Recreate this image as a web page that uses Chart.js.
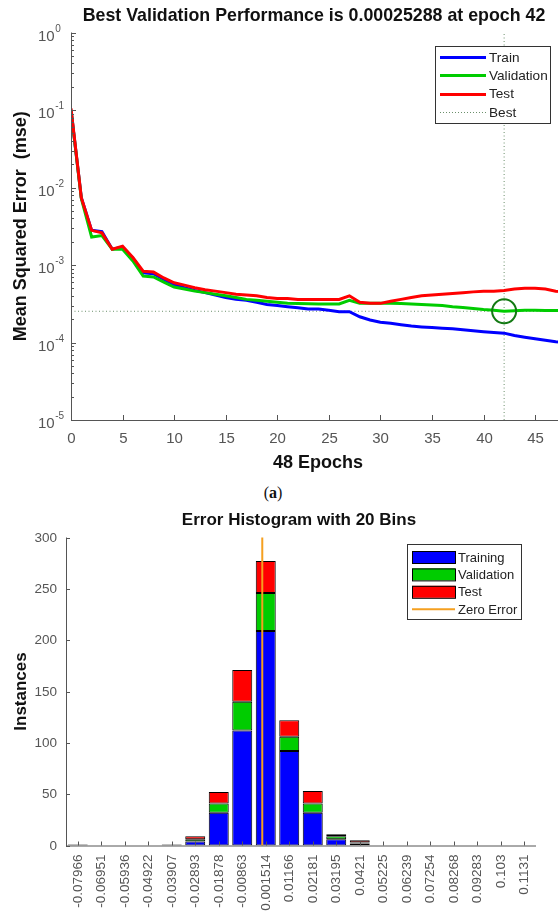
<!DOCTYPE html>
<html>
<head>
<meta charset="utf-8">
<script src="https://cdn.jsdelivr.net/npm/chart.js@4/dist/chart.umd.min.js"></script>
<style>
html, body { margin: 0; padding: 0; background: #fff; overflow: hidden; }
#wrap { position: relative; width: 558px; height: 913px; overflow: hidden; }
#perf { position: absolute; left: 0; top: 0; }
#hist { position: absolute; left: 0; top: 500px; }
#cap { position: absolute; top: 484px; left: 0; width: 546px; text-align: center;
       font-family: "Liberation Serif", serif; font-size: 16px; color: #111; }
</style>
</head>
<body>
<div id="wrap">
  <canvas id="perf" width="600" height="480"></canvas>
  <div id="cap">(<b>a</b>)</div>
  <canvas id="hist" width="558" height="413"></canvas>
</div>
<script>
// ---- performance plot data ----
const epochs = [0,1,2,3,4,5,6,7,8,9,10,11,12,13,14,15,16,17,18,19,20,21,22,23,24,
  25,26,27,28,29,30,31,32,33,34,35,36,37,38,39,40,41,42,43,44,45,46,47,48];
const trainMse = [0.1,0.0074,0.0028,0.0027,0.0016,0.0017,0.00122,0.00079,0.00077,0.00065,
  0.00056,0.00051,0.00047,0.00044,0.00041,0.00038,0.00036,0.00035,0.00033,0.00031,
  0.0003,0.00029,0.00028,0.00027,0.00027,0.00026,0.00025,0.00025,0.000215,0.000195,
  0.000183,0.000177,0.00017,0.000163,0.000159,0.000156,0.000153,0.00015,0.000146,0.000142,
  0.000138,0.000135,0.000132,0.000123,0.000117,0.000112,0.000107,0.000102,0.0001];
const valMse = [0.1,0.0072,0.0023,0.0024,0.0016,0.0016,0.00113,0.00072,0.0007,0.0006,
  0.00052,0.00049,0.00046,0.00044,0.00042,0.0004,0.00038,0.00036,0.00035,0.00034,
  0.00033,0.00032,0.000318,0.000316,0.000315,0.000314,0.000315,0.00035,0.00032,0.00032,
  0.00032,0.000322,0.000318,0.000314,0.00031,0.000305,0.0003,0.00029,0.000283,0.000275,
  0.000266,0.00026,0.00025288,0.000257,0.00026,0.00026,0.000258,0.000258,0.000258];
const testMse = [0.105,0.0074,0.0028,0.0026,0.0016,0.00175,0.00125,0.00083,0.00081,0.00068,
  0.00059,0.00055,0.00051,0.00048,0.00046,0.00044,0.00042,0.00041,0.0004,0.00038,
  0.00037,0.00037,0.00036,0.00036,0.00036,0.00036,0.00036,0.0004,0.00033,0.00032,
  0.00032,0.00034,0.00036,0.00038,0.0004,0.00041,0.00042,0.00043,0.00044,0.00045,
  0.00046,0.00046,0.00047,0.00049,0.0005,0.0005,0.00049,0.00046,0.00045];
const bestEpoch = 42;
const bestPerf = 0.00025288;
const epochTicks = [0,5,10,15,20,25,30,35,40,45];
const mseDecades = [0,-1,-2,-3,-4,-5];

// ---- error histogram data ----
const binLabels = ['-0.07966','-0.06951','-0.05936','-0.04922','-0.03907','-0.02893',
  '-0.01878','-0.00863','0.001514','0.01166','0.02181','0.03195','0.0421','0.05225',
  '0.06239','0.07254','0.08268','0.09283','0.103','0.1131'];
const trainCounts = [1,0,0,0,1,4,32,112,209,92,32,6,2,0,0,0,0,0,0,0];
const valCounts   = [0,0,0,0,0,2,9,28,37,14,9,3,1,0,0,0,0,0,0,0];
const testCounts  = [0,0,0,0,0,3,11,31,31,16,12,2,2,0,0,0,0,0,0,0];
const countTicks = [0,50,100,150,200,250,300];
const zeroError = 0;

const FONT = '"Liberation Sans", Arial, sans-serif';
const AXIS = '#555';
const LABEL = '#555';
const BLUE = '#0000ff', GREEN = '#00cc00', RED = '#ff0000';
const BEST = '#6b8f6b';

function pts(vals) { return epochs.map((e, i) => ({ x: e, y: vals[i] })); }

const perfDecor = {
  id: 'perfDecor',
  afterDraw(chart) {
    const { ctx, chartArea: a, scales: { x, y } } = chart;
    ctx.save();
    ctx.strokeStyle = AXIS;
    ctx.lineWidth = 1;
    ctx.beginPath();
    ctx.moveTo(a.left + 0.5, a.top);
    ctx.lineTo(a.left + 0.5, a.bottom + 0.5);
    ctx.lineTo(a.right, a.bottom + 0.5);
    ctx.stroke();

    // x ticks (inward) and labels
    ctx.fillStyle = LABEL;
    ctx.font = '15px ' + FONT;
    ctx.textAlign = 'center';
    ctx.textBaseline = 'middle';
    epochTicks.forEach(t => {
      const px = Math.round(x.getPixelForValue(t)) + 0.5;
      ctx.beginPath(); ctx.moveTo(px, a.bottom); ctx.lineTo(px, a.bottom - 5); ctx.stroke();
      ctx.fillText(String(t), px, 439);
    });

    // y decade ticks, minor ticks and labels
    mseDecades.forEach(d => {
      const py = Math.round(y.getPixelForValue(Math.pow(10, d))) + 0.5;
      ctx.beginPath(); ctx.moveTo(a.left, py); ctx.lineTo(a.left + 5, py); ctx.stroke();
      if (d > -5) {
        for (let m = 2; m <= 9; m++) {
          const my = Math.round(y.getPixelForValue(m * Math.pow(10, d - 1))) + 0.5;
          ctx.beginPath(); ctx.moveTo(a.left, my); ctx.lineTo(a.left + 3, my); ctx.stroke();
        }
      }
      ctx.textAlign = 'left';
      ctx.font = '15px ' + FONT;
      ctx.fillText('10', 38, py + 3);
      const w = ctx.measureText('10').width;
      ctx.font = '10px ' + FONT;
      ctx.fillText(String(d), 38 + w + 0.5, py - 4);
    });

    // titles
    ctx.fillStyle = '#111';
    ctx.textAlign = 'center';
    ctx.font = 'bold 17.8px ' + FONT;
    ctx.fillText('Best Validation Performance is 0.00025288 at epoch 42', 314, 16);
    ctx.font = 'bold 18px ' + FONT;
    ctx.fillText('48 Epochs', 318, 463);
    ctx.save();
    ctx.translate(21, (a.top + a.bottom) / 2);
    ctx.rotate(-Math.PI / 2);
    ctx.fillText('Mean Squared Error  (mse)', 0, 0);
    ctx.restore();

    // legend
    const bx = 435, by = 46, bw = 115, bh = 77;
    ctx.fillStyle = '#fff';
    ctx.fillRect(bx, by, bw, bh);
    ctx.strokeStyle = '#333';
    ctx.strokeRect(bx + 0.5, by + 0.5, bw, bh);
    const items = [
      ['Train', BLUE, 3, []], ['Validation', GREEN, 3, []],
      ['Test', RED, 3, []], ['Best', BEST, 1, [1, 2]]
    ];
    ctx.font = '13.6px ' + FONT;
    ctx.textAlign = 'left';
    items.forEach((it, i) => {
      const iy = 57 + i * 18.3;
      ctx.strokeStyle = it[1]; ctx.lineWidth = it[2]; ctx.setLineDash(it[3]);
      ctx.beginPath(); ctx.moveTo(440, Math.round(iy) + 0.5); ctx.lineTo(486, Math.round(iy) + 0.5); ctx.stroke();
      ctx.setLineDash([]);
      ctx.fillStyle = '#222';
      ctx.fillText(it[0], 489, iy + 1);
    });
    ctx.restore();
  }
};

new Chart(document.getElementById('perf'), {
  type: 'line',
  data: {
    datasets: [
      { label: 'Best circle', data: [{ x: bestEpoch, y: bestPerf }], showLine: false,
        pointRadius: 12, pointBorderWidth: 2, pointBorderColor: '#137a13',
        pointBackgroundColor: 'rgba(0,0,0,0)', order: 0 },
      { label: 'Test', data: pts(testMse), borderColor: RED, borderWidth: 3, pointRadius: 0, order: 1 },
      { label: 'Validation', data: pts(valMse), borderColor: GREEN, borderWidth: 3, pointRadius: 0, order: 2 },
      { label: 'Train', data: pts(trainMse), borderColor: BLUE, borderWidth: 3, pointRadius: 0, order: 3 },
      { label: 'Best h', data: [{ x: 0, y: bestPerf }, { x: 48, y: bestPerf }], borderColor: BEST,
        borderWidth: 1, borderDash: [1, 2.5], pointRadius: 0, order: 4 },
      { label: 'Best v', data: [{ x: bestEpoch, y: 1e-5 }, { x: bestEpoch, y: 1 }], borderColor: BEST,
        borderWidth: 1, borderDash: [1, 2.5], pointRadius: 0, order: 4 }
    ]
  },
  options: {
    responsive: false,
    animation: false,
    layout: { padding: { left: 71, right: 34, top: 32.5, bottom: 60 } },
    elements: { line: { tension: 0 } },
    plugins: { legend: { display: false }, tooltip: { enabled: false } },
    scales: {
      x: { type: 'linear', min: 0, max: 48, ticks: { display: false }, grid: { display: false },
           border: { display: false }, afterFit: s => { s.height = 0; } },
      y: { type: 'logarithmic', min: 1e-5, max: 1, ticks: { display: false }, grid: { display: false },
           border: { display: false }, afterFit: s => { s.width = 0; } }
    }
  },
  plugins: [perfDecor]
});

// ---- histogram ----
const histDecor = {
  id: 'histDecor',
  afterDraw(chart) {
    const { ctx, chartArea: a, scales: { x, y } } = chart;
    ctx.save();
    // zero error line
    const centers = binLabels.map(Number);
    const step = (centers[centers.length - 1] - centers[0]) / (centers.length - 1);
    const zx = x.getPixelForValue((zeroError - centers[0]) / step);
    ctx.strokeStyle = '#f5a020';
    ctx.lineWidth = 2;
    ctx.beginPath(); ctx.moveTo(zx, y.getPixelForValue(300)); ctx.lineTo(zx, y.getPixelForValue(0)); ctx.stroke();

    ctx.strokeStyle = AXIS;
    ctx.lineWidth = 1;
    ctx.beginPath();
    ctx.moveTo(a.left + 0.5, a.top);
    ctx.lineTo(a.left + 0.5, a.bottom + 0.5);
    ctx.lineTo(a.right, a.bottom + 0.5);
    ctx.stroke();

    ctx.fillStyle = LABEL;
    ctx.font = '13.5px ' + FONT;
    ctx.textAlign = 'right';
    ctx.textBaseline = 'middle';
    countTicks.forEach(t => {
      const py = Math.round(y.getPixelForValue(t)) + 0.5;
      ctx.beginPath(); ctx.moveTo(a.left, py); ctx.lineTo(a.left + 4, py); ctx.stroke();
      ctx.fillText(String(t), 57, py);
    });
    ctx.font = '13.5px ' + FONT;
    binLabels.forEach((lab, i) => {
      const px = Math.round(x.getPixelForValue(i)) + 0.5;
      ctx.beginPath(); ctx.moveTo(px, a.bottom); ctx.lineTo(px, a.bottom - 4); ctx.stroke();
      ctx.save();
      ctx.translate(px, a.bottom + 9);
      ctx.rotate(-Math.PI / 2);
      ctx.textAlign = 'right';
      ctx.fillText(lab, 0, 0);
      ctx.restore();
    });

    ctx.fillStyle = '#111';
    ctx.textAlign = 'center';
    ctx.font = 'bold 17px ' + FONT;
    ctx.fillText('Error Histogram with 20 Bins', 299, 20);
    ctx.save();
    ctx.translate(21, (a.top + a.bottom) / 2);
    ctx.rotate(-Math.PI / 2);
    ctx.fillText('Instances', 0, 0);
    ctx.restore();

    // legend
    const bx = 407, by = 44, bw = 114, bh = 75;
    ctx.fillStyle = '#fff';
    ctx.fillRect(bx, by, bw, bh);
    ctx.strokeStyle = '#333';
    ctx.strokeRect(bx + 0.5, by + 0.5, bw, bh);
    const items = [['Training', BLUE], ['Validation', GREEN], ['Test', RED], ['Zero Error', null]];
    ctx.font = '13px ' + FONT;
    ctx.textAlign = 'left';
    items.forEach((it, i) => {
      const iy = 57 + i * 17.4;
      if (it[1]) {
        ctx.fillStyle = it[1];
        ctx.fillRect(412, iy - 6, 43, 12);
        ctx.strokeStyle = '#000'; ctx.lineWidth = 1;
        ctx.strokeRect(412.5, iy - 5.5, 43, 12);
      } else {
        ctx.strokeStyle = '#f5a020'; ctx.lineWidth = 2;
        ctx.beginPath(); ctx.moveTo(412, iy); ctx.lineTo(455, iy); ctx.stroke();
      }
      ctx.fillStyle = '#222';
      ctx.fillText(it[0], 458, iy + 1);
    });
    ctx.restore();
  }
};

const barBorder = c => (c.raw > 0 ? 1 : 0);

new Chart(document.getElementById('hist'), {
  type: 'bar',
  data: {
    labels: binLabels,
    datasets: [
      { label: 'Training', data: trainCounts, backgroundColor: BLUE },
      { label: 'Validation', data: valCounts, backgroundColor: GREEN },
      { label: 'Test', data: testCounts, backgroundColor: RED }
    ]
  },
  options: {
    responsive: false,
    animation: false,
    layout: { padding: { left: 66, right: 22, top: 37.5, bottom: 67.5 } },
    datasets: { bar: { borderColor: '#000', borderWidth: barBorder, borderSkipped: false,
                       barPercentage: 0.85, categoryPercentage: 1 } },
    plugins: { legend: { display: false }, tooltip: { enabled: false } },
    scales: {
      x: { stacked: true, ticks: { display: false }, grid: { display: false },
           border: { display: false }, afterFit: s => { s.height = 0; } },
      y: { stacked: true, min: 0, max: 300, ticks: { display: false }, grid: { display: false },
           border: { display: false }, afterFit: s => { s.width = 0; } }
    }
  },
  plugins: [histDecor]
});
</script>
</body>
</html>
